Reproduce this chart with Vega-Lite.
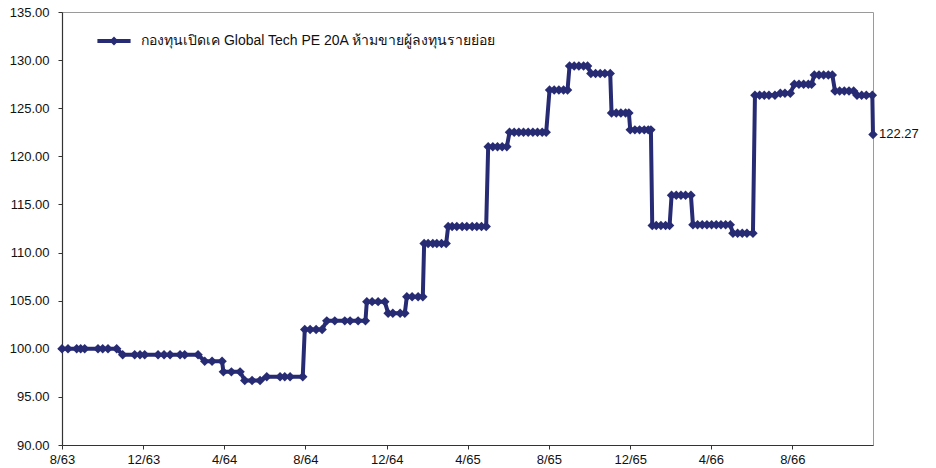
{
  "$schema": "https://vega.github.io/schema/vega-lite/v6.json",
  "width": 811,
  "height": 433,
  "autosize": "none",
  "padding": {"left": 62, "top": 12, "right": 63, "bottom": 23},
  "background": "white",
  "config": {
    "font": "Liberation Sans",
    "view": {"stroke": "#9a9a9a", "strokeWidth": 1},
    "axis": {"grid": false, "labelFont": "Liberation Sans", "labelFontSize": 13, "labelColor": "#111", "domainColor": "#333", "tickColor": "#333", "tickSize": 4, "domainWidth": 1.2, "title": null}
  },
  "data": {"values": [
    {"d":"2020-08-01","v":100.0},{"d":"2020-08-10","v":100.0},{"d":"2020-08-23","v":100.0},{"d":"2020-08-29","v":100.0},{"d":"2020-09-04","v":100.0},{"d":"2020-09-24","v":100.0},{"d":"2020-10-01","v":100.0},{"d":"2020-10-09","v":100.0},{"d":"2020-10-22","v":100.0},
    {"d":"2020-10-31","v":99.38},{"d":"2020-11-18","v":99.38},{"d":"2020-11-26","v":99.38},{"d":"2020-12-03","v":99.38},{"d":"2020-12-23","v":99.38},{"d":"2021-01-01","v":99.38},{"d":"2021-01-10","v":99.38},{"d":"2021-01-25","v":99.38},{"d":"2021-02-01","v":99.38},{"d":"2021-02-21","v":99.38},
    {"d":"2021-03-03","v":98.7},{"d":"2021-03-14","v":98.7},{"d":"2021-03-29","v":98.7},
    {"d":"2021-03-31","v":97.6},{"d":"2021-04-12","v":97.6},{"d":"2021-04-25","v":97.6},
    {"d":"2021-05-02","v":96.7},{"d":"2021-05-13","v":96.7},{"d":"2021-05-25","v":96.7},
    {"d":"2021-06-04","v":97.1},{"d":"2021-06-24","v":97.1},{"d":"2021-07-01","v":97.1},{"d":"2021-07-09","v":97.1},{"d":"2021-07-28","v":97.1},
    {"d":"2021-07-31","v":102.0},{"d":"2021-08-08","v":102.0},{"d":"2021-08-17","v":102.0},{"d":"2021-08-26","v":102.0},
    {"d":"2021-09-02","v":102.9},{"d":"2021-09-14","v":102.9},{"d":"2021-09-29","v":102.9},{"d":"2021-10-07","v":102.9},{"d":"2021-10-19","v":102.9},{"d":"2021-10-30","v":102.9},
    {"d":"2021-11-01","v":104.9},{"d":"2021-11-09","v":104.9},{"d":"2021-11-18","v":104.9},{"d":"2021-11-28","v":104.9},
    {"d":"2021-12-03","v":103.7},{"d":"2021-12-10","v":103.7},{"d":"2021-12-21","v":103.7},{"d":"2021-12-28","v":103.7},
    {"d":"2021-12-31","v":105.4},{"d":"2022-01-08","v":105.4},{"d":"2022-01-17","v":105.4},{"d":"2022-01-24","v":105.4},
    {"d":"2022-01-26","v":110.95},{"d":"2022-02-01","v":110.95},{"d":"2022-02-08","v":110.95},{"d":"2022-02-14","v":110.95},{"d":"2022-02-21","v":110.95},{"d":"2022-02-28","v":110.95},
    {"d":"2022-03-03","v":112.7},{"d":"2022-03-09","v":112.7},{"d":"2022-03-16","v":112.7},{"d":"2022-03-24","v":112.7},{"d":"2022-03-31","v":112.7},{"d":"2022-04-08","v":112.7},{"d":"2022-04-15","v":112.7},{"d":"2022-04-22","v":112.7},{"d":"2022-04-29","v":112.7},
    {"d":"2022-05-02","v":121.0},{"d":"2022-05-09","v":121.0},{"d":"2022-05-16","v":121.0},{"d":"2022-05-23","v":121.0},{"d":"2022-05-30","v":121.0},
    {"d":"2022-06-03","v":122.5},{"d":"2022-06-10","v":122.5},{"d":"2022-06-17","v":122.5},{"d":"2022-06-24","v":122.5},{"d":"2022-07-01","v":122.5},{"d":"2022-07-08","v":122.5},{"d":"2022-07-15","v":122.5},{"d":"2022-07-22","v":122.5},{"d":"2022-07-28","v":122.5},
    {"d":"2022-08-02","v":126.9},{"d":"2022-08-09","v":126.9},{"d":"2022-08-16","v":126.9},{"d":"2022-08-23","v":126.9},{"d":"2022-08-29","v":126.9},
    {"d":"2022-09-01","v":129.4},{"d":"2022-09-08","v":129.4},{"d":"2022-09-15","v":129.4},{"d":"2022-09-22","v":129.4},{"d":"2022-09-28","v":129.4},
    {"d":"2022-10-03","v":128.6},{"d":"2022-10-10","v":128.6},{"d":"2022-10-17","v":128.6},{"d":"2022-10-24","v":128.6},{"d":"2022-11-01","v":128.6},
    {"d":"2022-11-03","v":124.5},{"d":"2022-11-10","v":124.5},{"d":"2022-11-17","v":124.5},{"d":"2022-11-24","v":124.5},{"d":"2022-11-29","v":124.5},
    {"d":"2022-12-01","v":122.75},{"d":"2022-12-08","v":122.75},{"d":"2022-12-15","v":122.75},{"d":"2022-12-22","v":122.75},{"d":"2022-12-28","v":122.75},{"d":"2023-01-01","v":122.75},
    {"d":"2023-01-03","v":112.8},{"d":"2023-01-09","v":112.8},{"d":"2023-01-16","v":112.8},{"d":"2023-01-23","v":112.8},{"d":"2023-01-29","v":112.8},
    {"d":"2023-02-01","v":115.95},{"d":"2023-02-08","v":115.95},{"d":"2023-02-15","v":115.95},{"d":"2023-02-22","v":115.95},{"d":"2023-03-02","v":115.95},
    {"d":"2023-03-05","v":112.9},{"d":"2023-03-12","v":112.9},{"d":"2023-03-19","v":112.9},{"d":"2023-03-26","v":112.9},{"d":"2023-04-02","v":112.9},{"d":"2023-04-09","v":112.9},{"d":"2023-04-16","v":112.9},{"d":"2023-04-23","v":112.9},{"d":"2023-04-30","v":112.9},
    {"d":"2023-05-04","v":112.0},{"d":"2023-05-11","v":112.0},{"d":"2023-05-18","v":112.0},{"d":"2023-05-25","v":112.0},{"d":"2023-06-03","v":112.0},
    {"d":"2023-06-06","v":126.35},{"d":"2023-06-13","v":126.35},{"d":"2023-06-20","v":126.35},{"d":"2023-06-27","v":126.35},{"d":"2023-07-06","v":126.35},
    {"d":"2023-07-14","v":126.55},{"d":"2023-07-21","v":126.55},{"d":"2023-07-29","v":126.55},
    {"d":"2023-08-04","v":127.5},{"d":"2023-08-11","v":127.5},{"d":"2023-08-18","v":127.5},{"d":"2023-08-25","v":127.5},{"d":"2023-08-30","v":127.5},
    {"d":"2023-09-03","v":128.45},{"d":"2023-09-10","v":128.45},{"d":"2023-09-17","v":128.45},{"d":"2023-09-24","v":128.45},{"d":"2023-09-30","v":128.45},
    {"d":"2023-10-04","v":126.8},{"d":"2023-10-11","v":126.8},{"d":"2023-10-18","v":126.8},{"d":"2023-10-25","v":126.8},{"d":"2023-11-01","v":126.8},
    {"d":"2023-11-06","v":126.35},{"d":"2023-11-13","v":126.35},{"d":"2023-11-20","v":126.35},{"d":"2023-11-29","v":126.35},
    {"d":"2023-11-30","v":122.27}
  ]},
  "encoding": {
    "x": {
      "field": "d", "type": "temporal",
      "scale": {"type": "utc", "domain": [{"year": 2020, "month": 8, "date": 1, "utc": true}, {"year": 2023, "month": 11, "date": 30, "utc": true}]},
      "axis": {
        "values": [
          {"year": 2020, "month": 8, "date": 1, "utc": true}, {"year": 2020, "month": 12, "date": 1, "utc": true},
          {"year": 2021, "month": 4, "date": 1, "utc": true}, {"year": 2021, "month": 8, "date": 1, "utc": true},
          {"year": 2021, "month": 12, "date": 1, "utc": true}, {"year": 2022, "month": 4, "date": 1, "utc": true},
          {"year": 2022, "month": 8, "date": 1, "utc": true}, {"year": 2022, "month": 12, "date": 1, "utc": true},
          {"year": 2023, "month": 4, "date": 1, "utc": true}, {"year": 2023, "month": 8, "date": 1, "utc": true}
        ],
        "labelExpr": "(utcmonth(datum.value) + 1) + '/' + ((utcyear(datum.value) + 543) % 100)",
        "labelPadding": 4,
        "labelFlush": false,
        "labelOverlap": false
      }
    },
    "y": {
      "field": "v", "type": "quantitative",
      "scale": {"domain": [90, 135], "zero": false, "nice": false},
      "axis": {"values": [90, 95, 100, 105, 110, 115, 120, 125, 130, 135], "format": ".2f", "labelPadding": 9}
    }
  },
  "layer": [
    {
      "mark": {"type": "line", "strokeWidth": 4, "strokeJoin": "miter"},
      "encoding": {
        "color": {
          "datum": "กองทุนเปิดเค Global Tech PE 20A ห้ามขายผู้ลงทุนรายย่อย",
          "scale": {"range": ["#272B73"]},
          "legend": {
            "title": null,
            "orient": "none",
            "legendX": 35,
            "legendY": 12,
            "symbolType": "M-1,-0.12H1V0.12H-1Z M0,-0.27L0.27,0L0,0.27L-0.27,0Z",
            "symbolSize": 1100,
            "symbolStrokeWidth": 0,
            "labelFontSize": 14,
            "labelFont": "Liberation Sans",
            "labelColor": "#111",
            "labelOffset": 10,
            "labelLimit": 600,
            "encode": {"symbols": {"update": {"fill": {"value": "#272B73"}, "strokeWidth": {"value": 0}}}}
          }
        }
      }
    },
    {
      "mark": {"type": "point", "shape": "diamond", "filled": true, "size": 90, "color": "#272B73", "opacity": 1}
    },
    {
      "transform": [{"filter": "datum.v == 122.27"}],
      "mark": {"type": "text", "align": "left", "baseline": "middle", "dx": 6, "fontSize": 13, "font": "Liberation Sans", "color": "#111"},
      "encoding": {"text": {"field": "v", "type": "quantitative", "format": ".2f"}}
    }
  ]
}
